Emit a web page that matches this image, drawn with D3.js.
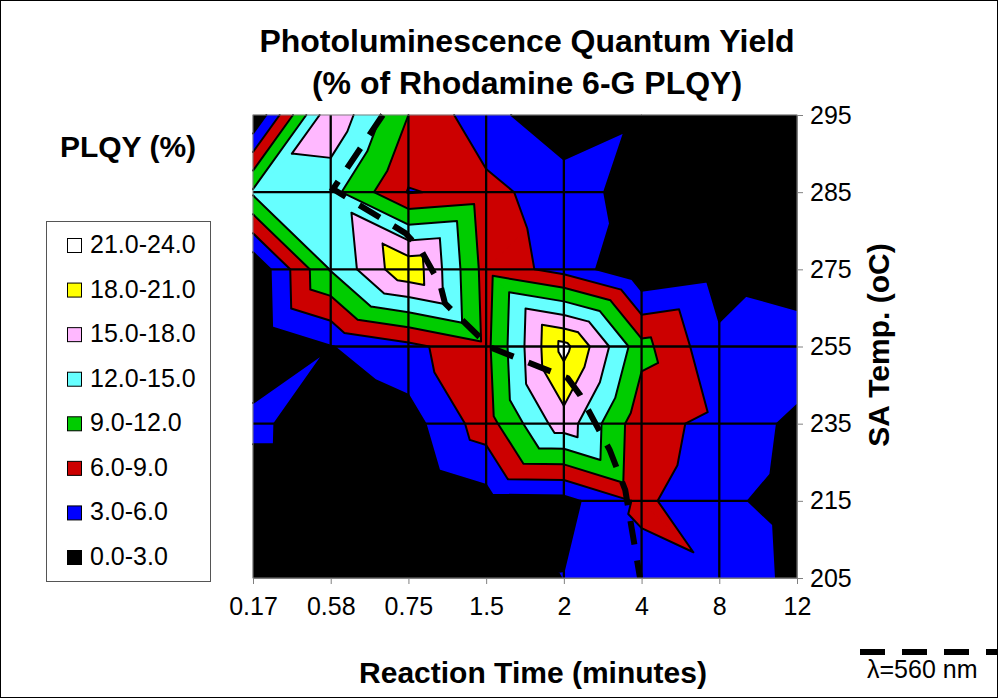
<!DOCTYPE html>
<html>
<head>
<meta charset="utf-8">
<script src="https://cdn.jsdelivr.net/npm/d3@7"></script>
<style>
  body { margin: 0; background: #fff; }
  text { font-family: "Liberation Sans", Arial, sans-serif; fill: #000; }
</style>
</head>
<body>
<svg id="chart" width="998" height="698"></svg>
<script>
// categories
const times = ["0.17", "0.58", "0.75", "1.5", "2", "4", "8", "12"];   // reaction time (minutes)
const temps = [295, 285, 275, 255, 235, 215, 205];                     // SA temp (oC)

// PLQY (% of Rhodamine 6-G), one row per temperature, one value per time
const plqy295 = [0.0, 17.5, 9.0, 3.9, 1.1, 2.6, 0.5, 0.5];
const plqy285 = [12.5, 13.0, 5.8, 6.9, 4.4, 1.7, 1.0, 1.0];
const plqy275 = [0.3, 12.2, 20.5, 7.8, 4.9, 0.3, 1.7, 0.2];
const plqy255 = [0.0, 2.9, 5.2, 8.2, 22.0, 10.0, 3.6, 5.5];
const plqy235 = [4.1, 0.1, 1.7, 7.6, 16.8, 6.9, 5.3, 2.2];
const plqy215 = [0.0, 0.0, 0.0, 1.8, 2.0, 6.6, 3.7, 1.8];
const plqy205 = [0.0, 0.0, 0.0, 0.0, 3.1, 4.9, 5.7, 2.0];
const plqy = [plqy295, plqy285, plqy275, plqy255, plqy235, plqy215, plqy205];

// contour bands
const levels = [0, 3, 6, 9, 12, 15, 18, 21, 24];
const bandLabels = ["0.0-3.0", "3.0-6.0", "6.0-9.0", "9.0-12.0", "12.0-15.0", "15.0-18.0", "18.0-21.0", "21.0-24.0"];
const bandColors = ["#000000", "#0000ff", "#cc0000", "#00cc00", "#66ffff", "#ffb8ff", "#ffff00", "#ffffff"];

// lambda = 560 nm line, in (time index, temp index) units
const line560 = [[1.67, 0], [1.03, 0.96], [1.96, 1.53], [2.16, 1.75], [2.41, 2.2], [2.47, 2.44],
                 [3.05, 3.01], [4.05, 3.41], [4.21, 3.63], [4.59, 4.34], [4.79, 4.86], [4.98, 6]];

const svg = d3.select("#chart");
const plot = { left: 253, right: 797, top: 115, bottom: 578 };

const xPos = d3.scalePoint().domain(times).range([plot.left, plot.right]);
const yPos = d3.scalePoint().domain(temps).range([plot.top, plot.bottom]);
const xIdx = d3.scaleLinear().domain([0, times.length - 1]).range([plot.left, plot.right]);
const yIdx = d3.scaleLinear().domain([0, temps.length - 1]).range([plot.top, plot.bottom]);

svg.append("rect").attr("x", 0.5).attr("y", 0.5).attr("width", 997).attr("height", 697)
  .attr("fill", "#fff").attr("stroke", "#000");

// split each grid cell in two triangles, along the diagonal with the larger sum
const triangles = [];
for (let r = 0; r < temps.length - 1; r++) {
  for (let c = 0; c < times.length - 1; c++) {
    const p = (cc, rr) => ({ x: cc, y: rr, v: plqy[rr][cc] });
    const tl = p(c, r), tr = p(c + 1, r), bl = p(c, r + 1), br = p(c + 1, r + 1);
    if (tr.v + bl.v >= tl.v + br.v) {
      triangles.push([tl, tr, bl], [tr, br, bl]);
    } else {
      triangles.push([tl, tr, br], [tl, br, bl]);
    }
  }
}

const clipPoly = (pts, t, above) => {
  const out = [];
  pts.forEach((a, i) => {
    const b = pts[(i + 1) % pts.length];
    const da = above ? a.v - t : t - a.v;
    const db = above ? b.v - t : t - b.v;
    if (da >= 0) out.push(a);
    if ((da >= 0) !== (db >= 0)) {
      const s = da / (da - db);
      out.push({ x: a.x + s * (b.x - a.x), y: a.y + s * (b.y - a.y), v: t });
    }
  });
  return out;
};

const toPath = poly => "M" + poly.map(q => xIdx(q.x).toFixed(2) + "," + yIdx(q.y).toFixed(2)).join("L") + "Z";

const fills = svg.append("g").attr("class", "bands");
bandColors.forEach((col, k) => {
  const lo = k === 0 ? -Infinity : levels[k];
  const hi = k === bandColors.length - 1 ? Infinity : levels[k + 1];
  let d = "";
  triangles.forEach(tri => {
    let poly = tri;
    if (isFinite(lo)) poly = clipPoly(poly, lo, true);
    if (poly.length > 2 && isFinite(hi)) poly = clipPoly(poly, hi, false);
    if (poly.length > 2) d += toPath(poly);
  });
  fills.append("path").attr("d", d).attr("fill", col).attr("stroke", col).attr("stroke-width", 0.4);
});

// contour lines between bands
const lines = svg.append("g").attr("class", "contours");
levels.slice(1, -1).forEach(t => {
  let d = "";
  triangles.forEach(tri => {
    const pts = [];
    tri.forEach((a, i) => {
      const b = tri[(i + 1) % 3];
      if ((a.v - t) * (b.v - t) < 0 || (a.v === t && b.v !== t)) {
        const s = (t - a.v) / (b.v - a.v);
        pts.push([xIdx(a.x + s * (b.x - a.x)), yIdx(a.y + s * (b.y - a.y))]);
      }
    });
    if (pts.length >= 2) d += "M" + pts[0].join(",") + "L" + pts[1].join(",");
  });
  lines.append("path").attr("d", d).attr("fill", "none").attr("stroke", "#000")
    .attr("stroke-width", 2).attr("stroke-linecap", "round");
});

// inner gridlines
const grid = svg.append("g").attr("class", "grid");
grid.selectAll("line.v").data(times.slice(1, -1)).join("line")
  .attr("x1", d => xPos(d)).attr("x2", d => xPos(d))
  .attr("y1", plot.top).attr("y2", plot.bottom)
  .attr("stroke", "#000").attr("stroke-width", 2.3);
grid.selectAll("line.h").data(temps.slice(1, -1)).join("line")
  .attr("y1", d => yPos(d)).attr("y2", d => yPos(d))
  .attr("x1", plot.left).attr("x2", plot.right)
  .attr("stroke", "#000").attr("stroke-width", 2.3);

// lambda = 560 nm line
svg.append("path")
  .attr("d", d3.line().x(d => xIdx(d[0])).y(d => yIdx(d[1]))(line560))
  .attr("fill", "none").attr("stroke", "#000").attr("stroke-width", 6)
  .attr("stroke-dasharray", "24,16");

svg.append("rect").attr("x", plot.left).attr("y", plot.top)
  .attr("width", plot.right - plot.left).attr("height", plot.bottom - plot.top)
  .attr("fill", "none").attr("stroke", "#808080").attr("stroke-width", 1);

// axes
const xAxis = svg.append("g").attr("transform", `translate(0,${plot.bottom})`)
  .call(d3.axisBottom(xPos).tickSize(6).tickSizeOuter(0).tickPadding(13));
const yAxis = svg.append("g").attr("transform", `translate(${plot.right},0)`)
  .call(d3.axisRight(yPos).tickSize(6).tickSizeOuter(0).tickPadding(7));
[xAxis, yAxis].forEach(ax => {
  ax.select(".domain").attr("stroke", "#808080");
  ax.selectAll(".tick line").attr("stroke", "#808080");
  ax.selectAll(".tick text").attr("font-size", 25).attr("font-family", "Liberation Sans, Arial, sans-serif").attr("fill", "#000");
});

// titles
svg.append("text").attr("x", 527).attr("y", 52).attr("text-anchor", "middle")
  .attr("font-size", 32).attr("font-weight", "bold").text("Photoluminescence Quantum Yield");
svg.append("text").attr("x", 527).attr("y", 94).attr("text-anchor", "middle")
  .attr("font-size", 32).attr("font-weight", "bold").text("(% of Rhodamine 6-G PLQY)");
svg.append("text").attr("x", 533).attr("y", 683).attr("text-anchor", "middle")
  .attr("font-size", 30).attr("font-weight", "bold").text("Reaction Time (minutes)");
svg.append("text").attr("transform", "translate(889,345) rotate(-90)").attr("text-anchor", "middle")
  .attr("font-size", 30).attr("font-weight", "bold").text("SA Temp. (oC)");
svg.append("text").attr("x", 128).attr("y", 157).attr("text-anchor", "middle")
  .attr("font-size", 30).attr("font-weight", "bold").text("PLQY (%)");

// legend
const legend = svg.append("g");
legend.append("rect").attr("x", 46.5).attr("y", 221.5).attr("width", 164).attr("height", 360)
  .attr("fill", "#fff").attr("stroke", "#555");
const items = d3.range(bandColors.length).reverse();
const ly = d3.scaleLinear().domain([0, items.length - 1]).range([253, 565]);
items.forEach((k, i) => {
  legend.append("rect").attr("x", 67.5).attr("y", ly(i) - 14.5).attr("width", 14).attr("height", 14)
    .attr("fill", bandColors[k]).attr("stroke", "#000").attr("stroke-width", 1);
  legend.append("text").attr("x", 90).attr("y", ly(i)).attr("font-size", 25).text(bandLabels[k]);
});

// lambda legend
svg.append("line").attr("x1", 860).attr("x2", 998).attr("y1", 652).attr("y2", 652)
  .attr("stroke", "#000").attr("stroke-width", 6).attr("stroke-dasharray", "25,17");
svg.append("text").attr("x", 867).attr("y", 678).attr("font-size", 25).text("λ=560 nm");
</script>
</body>
</html>
